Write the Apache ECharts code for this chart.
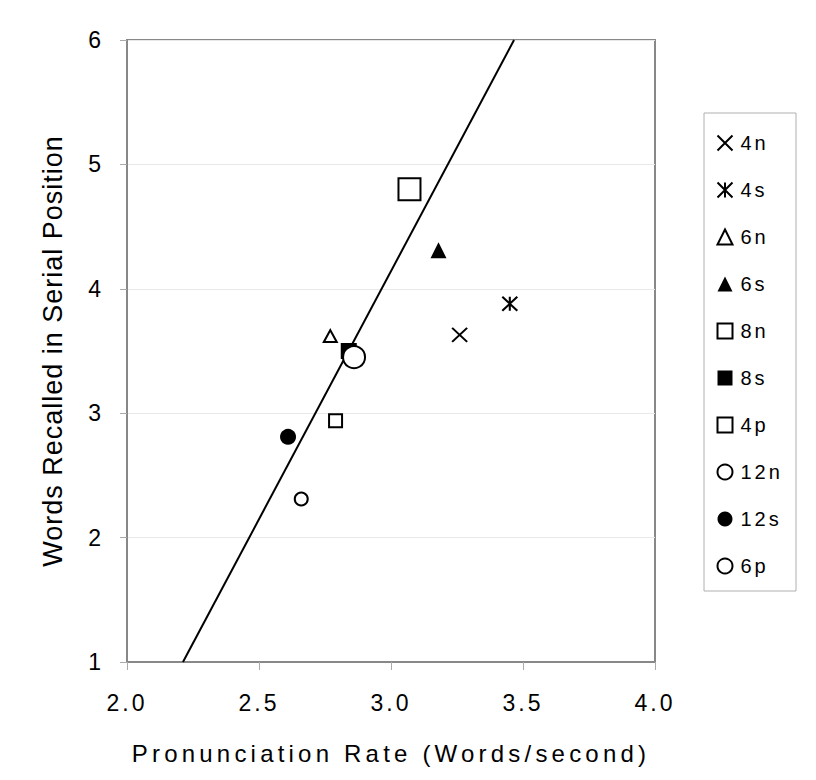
<!DOCTYPE html>
<html>
<head>
<meta charset="utf-8">
<script src="https://cdn.jsdelivr.net/npm/echarts@6/dist/echarts.min.js"></script>
<style>
  html, body { margin: 0; padding: 0; background: #fff; }
  #chart { width: 816px; height: 780px; }
</style>
</head>
<body>
<div id="chart"></div>
<script>
// conditions shown in the legend, top to bottom
const names = ["4n", "4s", "6n", "6s", "8n", "8s", "4p", "12n", "12s", "6p"];
// [pronunciation rate, words recalled] per condition
const points = [
  [3.26, 3.63],
  [3.45, 3.88],
  [2.77, 3.62],
  [3.18, 4.31],
  [2.79, 2.94],
  [2.84, 3.50],
  [3.07, 4.80],
  [2.66, 2.31],
  [2.61, 2.81],
  [2.86, 3.45],
];
// regression line end points
const fitLine = [[2.212, 1], [3.466, 6]];
const xTicks = [2.0, 2.5, 3.0, 3.5, 4.0];
const yTicks = [1, 2, 3, 4, 5, 6];

const crossPath = "path://M0,0L10,10M10,0L0,10";
const starPath = "path://M0,0L10,10M10,0L0,10M5,0L5,10";

// marker look per condition
const looks = {
  "4n": { symbol: crossPath, size: [15, 14], fill: "none", stroke: true },
  "4s": { symbol: starPath, size: [15, 14], fill: "none", stroke: true },
  "6n": { symbol: "triangle", size: [13, 12], fill: "#fff", stroke: true },
  "6s": { symbol: "triangle", size: 16, fill: "#000", stroke: false },
  "8n": { symbol: "rect", size: 13, fill: "#fff", stroke: true },
  "8s": { symbol: "rect", size: 16, fill: "#000", stroke: false },
  "4p": { symbol: "rect", size: 22, fill: "#fff", stroke: true },
  "12n": { symbol: "circle", size: 13, fill: "#fff", stroke: true },
  "12s": { symbol: "circle", size: 16, fill: "#000", stroke: false },
  "6p": { symbol: "circle", size: 22, fill: "#fff", stroke: true },
};

const chart = echarts.init(document.getElementById("chart"), null, { renderer: "svg" });

const scatterSeries = names.map((n, i) => {
  const lk = looks[n];
  return {
    name: n,
    type: "scatter",
    data: [points[i]],
    symbol: lk.symbol,
    symbolSize: lk.size,
    itemStyle: {
      color: lk.fill,
      borderColor: "#000",
      borderWidth: lk.stroke ? 2 : 0,
      opacity: 1,
    },
    z: 3,
  };
});

const option = {
  backgroundColor: "#fff",
  animation: false,
  textStyle: { fontFamily: "Liberation Sans, Arial, sans-serif" },
  grid: {
    left: 127,
    right: 161,
    top: 40,
    bottom: 118,
    show: true,
    borderColor: "#888",
    borderWidth: 2,
  },
  legend: {
    data: names,
    orient: "vertical",
    left: 710,
    top: 128,
    itemWidth: 15,
    itemHeight: 15,
    itemGap: 27,
    textStyle: { fontSize: 20, color: "#000", padding: [0, 0, 0, 3] },
  },
  graphic: [
    {
      type: "rect",
      shape: { x: 704, y: 113, width: 92, height: 478 },
      style: { fill: "none", stroke: "#b0b0b0", lineWidth: 1 },
    },
  ],
  xAxis: {
    type: "value",
    min: 2,
    max: 4,
    interval: 0.5,
    name: "Pronunciation Rate (Words/second)",
    nameLocation: "middle",
    nameGap: 79,
    nameTextStyle: { fontSize: 24, color: "#000" },
    axisLine: { lineStyle: { color: "#888", width: 2 } },
    axisTick: { show: true, length: 8, lineStyle: { color: "#aaa" } },
    axisLabel: {
      fontSize: 23,
      color: "#000",
      margin: 29,
      formatter: (v) => v.toFixed(1),
    },
    splitLine: { show: false },
  },
  yAxis: {
    type: "value",
    min: 1,
    max: 6,
    interval: 1,
    name: "Words Recalled in Serial Position",
    nameLocation: "middle",
    nameGap: 61,
    nameTextStyle: { fontSize: 27, color: "#000" },
    axisLine: { lineStyle: { color: "#888", width: 2 } },
    axisTick: { show: true, length: 7, lineStyle: { color: "#aaa" } },
    axisLabel: { fontSize: 23, color: "#000", margin: 23 },
    splitLine: { show: true, lineStyle: { color: "#e8e8e8", width: 1 } },
  },
  series: [
    {
      name: "fit",
      type: "line",
      data: fitLine,
      symbol: "none",
      lineStyle: { color: "#000", width: 2 },
      z: 2,
    },
    ...scatterSeries,
  ],
};

chart.setOption(option);

// the original text is drawn wide; spread the letters a little
function spreadText() {
  document.querySelectorAll("#chart svg text").forEach((t) => {
    const s = t.textContent;
    let ls = 3;
    if (s.indexOf("Pronunciation") === 0) ls = 4.2;
    else if (s.indexOf("Words") === 0) ls = 1;
    else if (names.indexOf(s) >= 0) ls = 3;
    t.style.letterSpacing = ls + "px";
  });
}
spreadText();
chart.on("finished", spreadText);
</script>
</body>
</html>
